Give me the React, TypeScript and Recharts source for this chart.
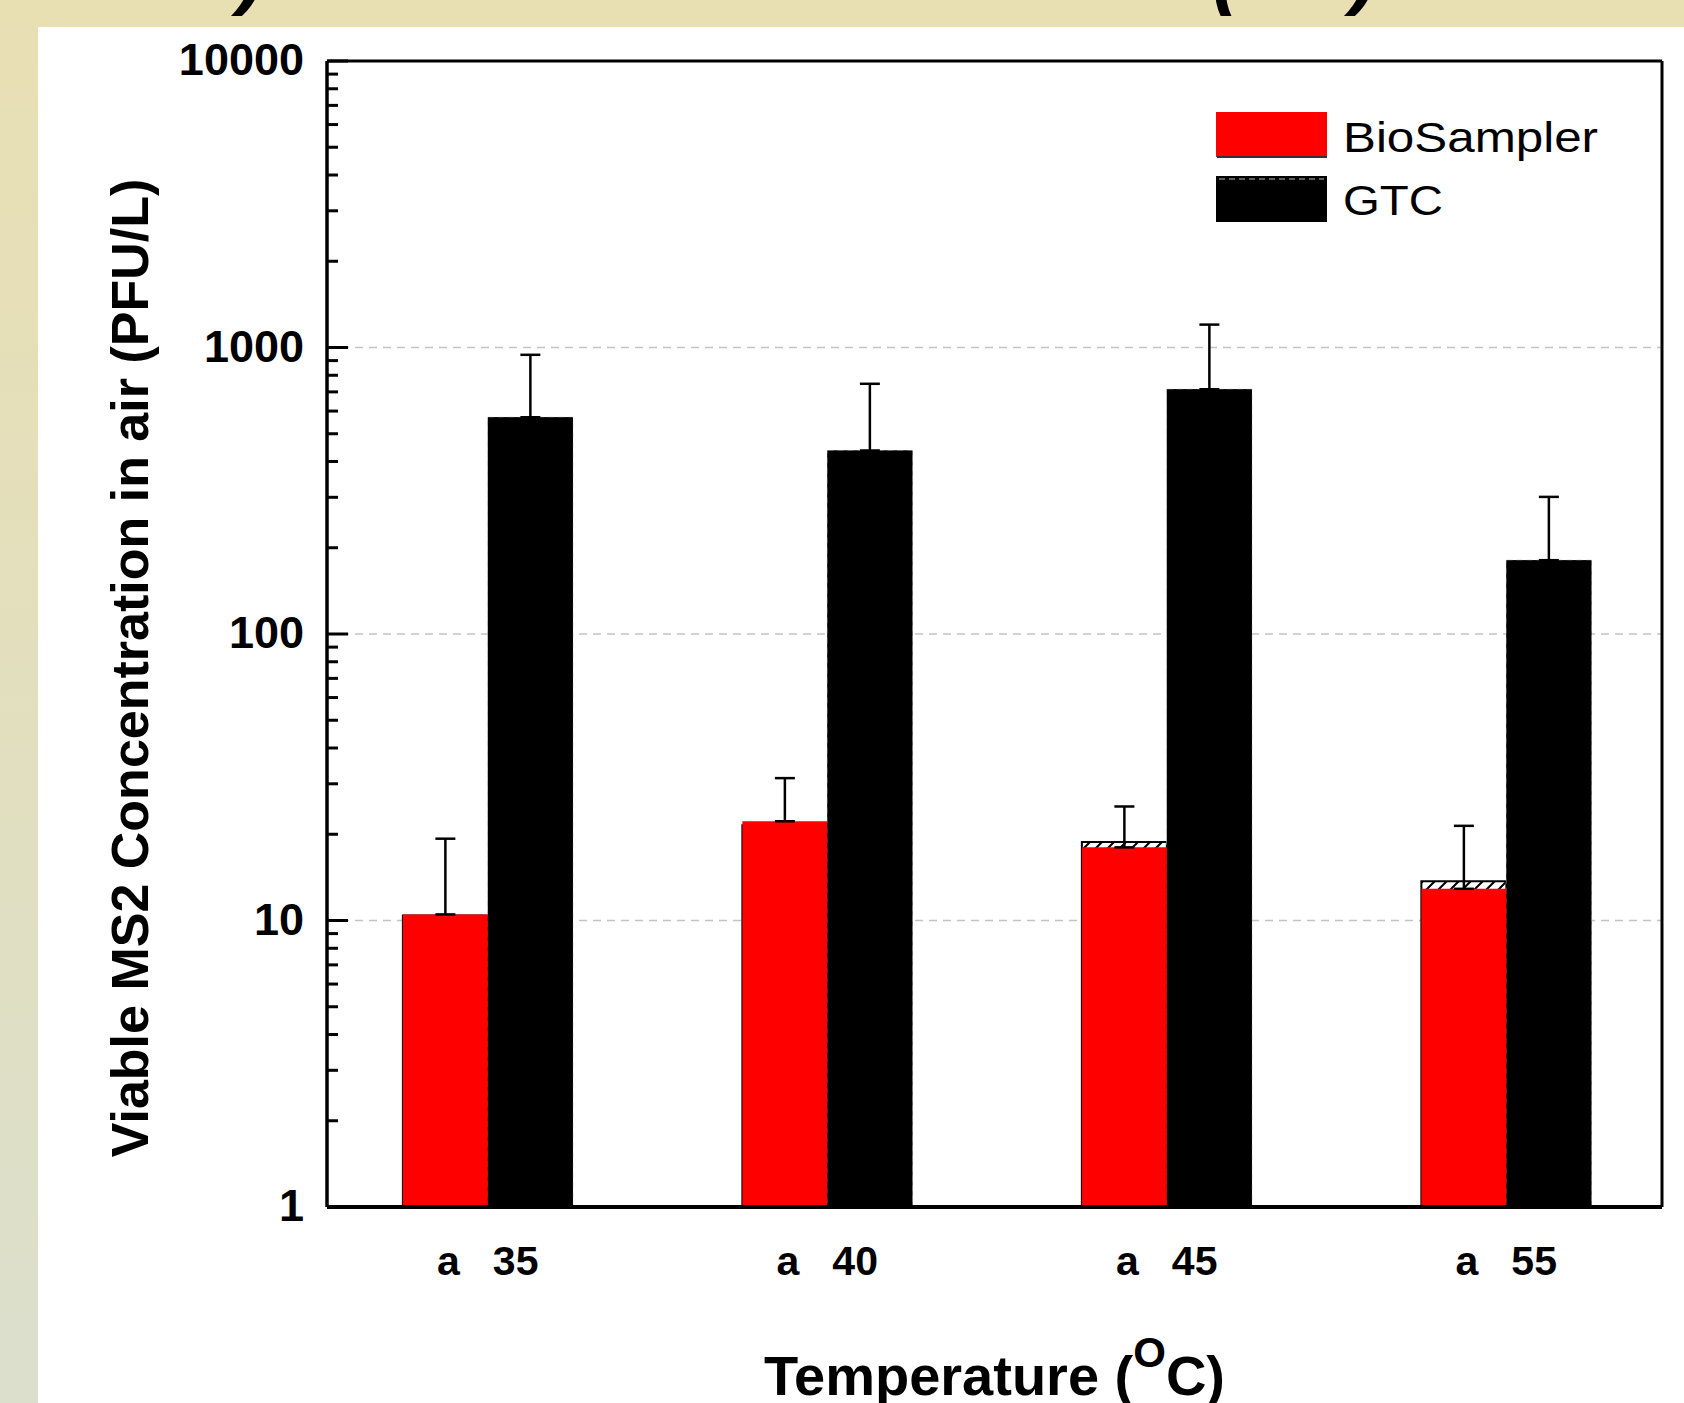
import React from 'react';
import {
  BarChart,
  Bar,
  XAxis,
  YAxis,
  CartesianGrid,
  ErrorBar,
  Legend,
} from 'recharts';

const temperatures = ['35', '40', '45', '55'];
const groupLetters = ['a', 'a', 'a', 'a'];
const bioSampler = [10.5, 22.2, 18.0, 12.9];
const bioSamplerErr = [8.8, 9.2, 7.0, 8.5];
const gtc = [571, 437, 715, 181];
const gtcErr = [372, 310, 487, 120];
// underlying layer of the original figure, only its hatched tops peek out
const bioSamplerUnder = [10.4, 21.5, 18.8, 13.7];
const gtcUnder = [571, 437, 715, 181];

const yLabelTicks = [1, 10, 100, 1000, 10000];
const yMinorSteps = [2, 3, 4, 5, 6, 7, 8, 9];
const gridValues = [10, 100, 1000];

const seriesNames = ['BioSampler', 'GTC'];
const RED = '#ff0000';
const BLACK = '#000000';
const FONT = '"Liberation Sans", Arial, Helvetica, sans-serif';

// error bars only go up: [below, above]
const data = temperatures.map((t, i) => ({
  t,
  bio: bioSampler[i],
  bioErr: [0, bioSamplerErr[i]],
  gtc: gtc[i],
  gtcErr: [0, gtcErr[i]],
  bioUnder: bioSamplerUnder[i],
  gtcUnder: gtcUnder[i],
}));

const yTicks = yLabelTicks.flatMap((m, i) =>
  i < yLabelTicks.length - 1 ? [m, ...yMinorSteps.map((k) => k * m)] : [m]
);

// the category band is a little wider than the frame in the original
const xPadding = { left: -9, right: -14 };

const YTick = ({ x, y, payload }: any) => {
  const major = yLabelTicks.includes(payload.value);
  return (
    <g>
      <line
        x1={x}
        x2={x + (major ? 21 : 11)}
        y1={y}
        y2={y}
        stroke={BLACK}
        strokeWidth={3}
      />
      {major && (
        <text
          x={x - 23}
          y={y + 14}
          textAnchor="end"
          fontFamily={FONT}
          fontWeight="bold"
          fontSize={45}
          fill={BLACK}
        >
          {payload.value}
        </text>
      )}
    </g>
  );
};

const XTick = ({ x, y, payload, index }: any) => (
  <text
    x={x}
    y={y + 68}
    textAnchor="middle"
    fontFamily={FONT}
    fontWeight="bold"
    fontSize={41}
    fill={BLACK}
  >
    <tspan>{groupLetters[index]}</tspan>
    <tspan dx={33}>{payload.value}</tspan>
  </text>
);

const YTitle = ({ viewBox }: any) => {
  const cx = viewBox.x + 148;
  const cy = viewBox.y + viewBox.height / 2 + 34;
  return (
    <text
      x={cx}
      y={cy}
      transform={`rotate(-90 ${cx} ${cy})`}
      textAnchor="middle"
      fontFamily={FONT}
      fontWeight="bold"
      fontSize={52}
      fill={BLACK}
    >
      Viable MS2 Concentration in air (PFU/L)
    </text>
  );
};

const XTitle = ({ viewBox }: any) => (
  <text
    x={viewBox.x + viewBox.width / 2}
    y={viewBox.y + 188}
    textAnchor="middle"
    fontFamily={FONT}
    fontWeight="bold"
    fontSize={56}
    fill={BLACK}
  >
    Temperature (
    <tspan dy={-28} fontSize={42}>
      O
    </tspan>
    <tspan dy={28}>C)</tspan>
  </text>
);

const LegendBox = () => (
  <svg width={420} height={115} style={{ display: 'block' }}>
    <rect x={0} y={0} width={111} height={45} fill={RED} />
    <line x1={1} x2={111} y1={45} y2={45} stroke="#333" strokeWidth={2} />
    <text
      x={127}
      y={40}
      fontFamily={FONT}
      fontSize={43}
      textLength={255}
      lengthAdjust="spacingAndGlyphs"
      fill={BLACK}
    >
      {seriesNames[0]}
    </text>
    <rect x={0} y={64} width={111} height={46} fill={BLACK} />
    <line
      x1={3}
      x2={108}
      y1={67}
      y2={67}
      stroke="#bbb"
      strokeWidth={1}
      strokeDasharray="6 4"
    />
    <text
      x={127}
      y={103}
      fontFamily={FONT}
      fontSize={43}
      textLength={100}
      lengthAdjust="spacingAndGlyphs"
      fill={BLACK}
    >
      {seriesNames[1]}
    </text>
  </svg>
);

const fragmentStyle: React.CSSProperties = {
  position: 'absolute',
  fontFamily: FONT,
  fontWeight: 'bold',
  fontStyle: 'italic',
  fontSize: 80,
  lineHeight: 1,
  color: BLACK,
};

export default function App() {
  return (
    <div
      style={{
        position: 'absolute',
        left: 0,
        top: 0,
        width: 1684,
        height: 1403,
        overflow: 'hidden',
        background: 'linear-gradient(to bottom, #e8dfb3 0%, #e3dfbd 45%, #dbdfcc 100%)',
      }}
    >
      {/* cropped slide title above the chart, only the bottoms of its brackets show */}
      <div
        style={{
          position: 'absolute',
          left: 0,
          top: 0,
          width: 1684,
          height: 27,
          overflow: 'hidden',
        }}
      >
        <span style={{ ...fragmentStyle, left: 238, top: -68 }}>)</span>
        <span style={{ ...fragmentStyle, left: 1212, top: -68 }}>(</span>
        <span style={{ ...fragmentStyle, left: 1351, top: -68 }}>)</span>
      </div>
      <div
        style={{
          position: 'absolute',
          left: 38,
          top: 27,
          right: 0,
          bottom: 0,
          background: '#ffffff',
        }}
      />
      <svg width={0} height={0} style={{ position: 'absolute' }}>
        <defs>
          <pattern
            id="hatch"
            patternUnits="userSpaceOnUse"
            width={12}
            height={12}
          >
            <rect width={12} height={12} fill="#ffffff" />
            <path
              d="M0,12 L12,0 M-3,3 L3,-3 M9,15 L15,9"
              stroke={BLACK}
              strokeWidth={2}
            />
          </pattern>
        </defs>
      </svg>
      <div style={{ position: 'absolute', left: 0, top: 0 }}>
        <BarChart
          width={1684}
          height={1403}
          data={data}
          margin={{ top: 60, right: 21, bottom: 46, left: 0 }}
          barCategoryGap="25%"
          barGap={0}
        >
          <CartesianGrid
            horizontal
            vertical={false}
            horizontalValues={gridValues}
            stroke="#c4c4c4"
            strokeWidth={1.5}
            strokeDasharray="8 6"
          />
          <Bar
            xAxisId="top"
            yAxisId="right"
            dataKey="bioUnder"
            fill="url(#hatch)"
            stroke={BLACK}
            strokeWidth={2}
            legendType="none"
            isAnimationActive={false}
          />
          <Bar
            xAxisId="top"
            yAxisId="right"
            dataKey="gtcUnder"
            fill={BLACK}
            stroke="#cccccc"
            strokeWidth={1}
            strokeDasharray="6 4"
            legendType="none"
            isAnimationActive={false}
          />
          <Bar dataKey="bio" name={seriesNames[0]} fill={RED} isAnimationActive={false}>
            <ErrorBar
              dataKey="bioErr"
              direction="y"
              width={10}
              stroke={BLACK}
              strokeWidth={2.5}
              isAnimationActive={false}
            />
          </Bar>
          <Bar dataKey="gtc" name={seriesNames[1]} fill={BLACK} isAnimationActive={false}>
            <ErrorBar
              dataKey="gtcErr"
              direction="y"
              width={10}
              stroke={BLACK}
              strokeWidth={2.5}
              isAnimationActive={false}
            />
          </Bar>
          <XAxis
            dataKey="t"
            height={150}
            padding={xPadding}
            axisLine={{ stroke: BLACK, strokeWidth: 4 }}
            tickLine={false}
            tickSize={0}
            tickMargin={0}
            tick={<XTick />}
            label={<XTitle />}
          />
          <XAxis
            xAxisId="top"
            dataKey="t"
            orientation="top"
            height={1}
            padding={xPadding}
            axisLine={{ stroke: BLACK, strokeWidth: 3 }}
            tickLine={false}
            tick={false}
          />
          <YAxis
            type="number"
            scale="log"
            domain={[1, 10000]}
            allowDataOverflow
            ticks={yTicks}
            interval={0}
            width={327}
            axisLine={{ stroke: BLACK, strokeWidth: 3.5 }}
            tickLine={false}
            tickSize={0}
            tickMargin={0}
            tick={<YTick />}
            label={<YTitle />}
          />
          <YAxis
            yAxisId="right"
            orientation="right"
            type="number"
            scale="log"
            domain={[1, 10000]}
            allowDataOverflow
            width={1}
            axisLine={{ stroke: BLACK, strokeWidth: 3 }}
            tickLine={false}
            tick={false}
          />
          <Legend
            layout="vertical"
            align="center"
            verticalAlign="middle"
            wrapperStyle={{ left: 1216, top: 112, width: 420 }}
            content={<LegendBox />}
          />
        </BarChart>
      </div>
    </div>
  );
}
